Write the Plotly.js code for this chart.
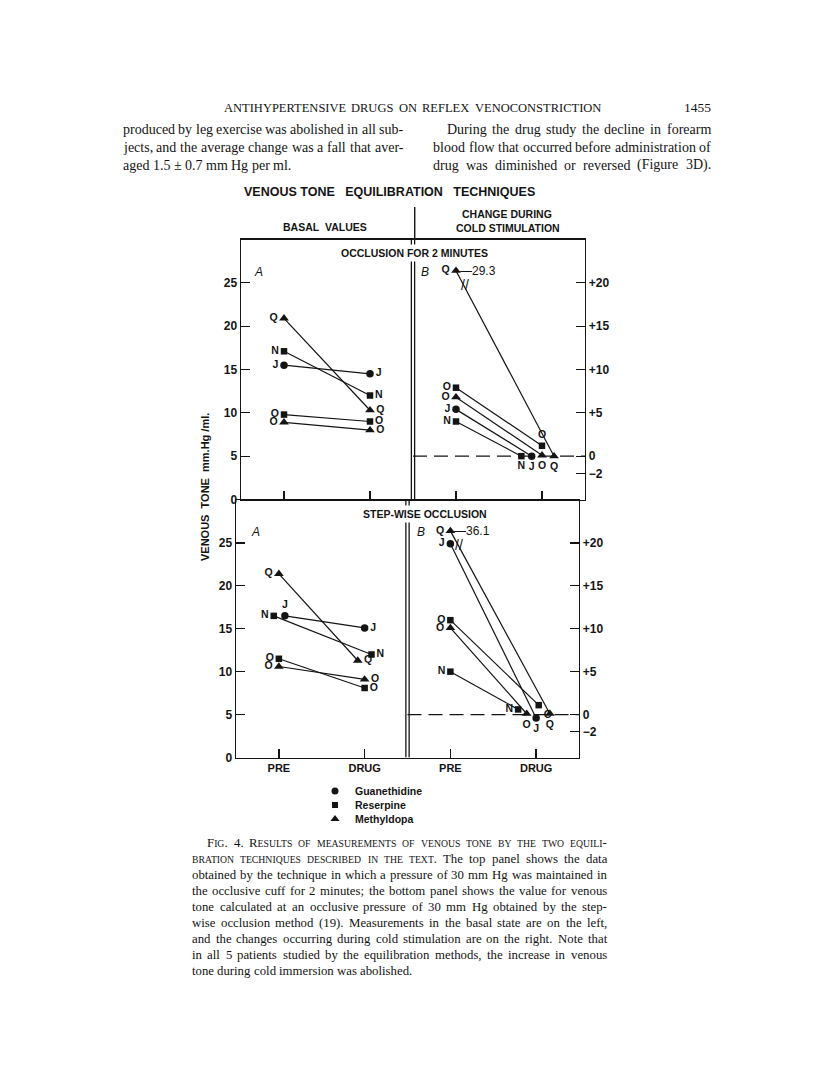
<!DOCTYPE html>
<html><head><meta charset="utf-8">
<script src="https://cdn.plot.ly/plotly-3.0.1.min.js"></script>
<style>html,body{margin:0;padding:0;background:#fff}#chart{width:816px;height:1076px}</style>
</head><body><div id="chart"></div>
<script>
// ================= DATA =================
const subjects = ['J', 'N', 'O', 'Q', 'O'];
const drugs = ['Guanethidine', 'Reserpine', 'Reserpine', 'Methyldopa', 'Methyldopa'];
const phases = ['PRE', 'DRUG'];
const legendDrugs = ['Guanethidine', 'Reserpine', 'Methyldopa'];
// Occlusion for 2 minutes (mm Hg/ml)
const occBasalPre  = [15.5, 17.1, 9.8, 20.9, 8.9];
const occBasalDrug = [14.5, 12.0, 9.0, 10.3, 8.0];
const occColdPre   = [5.4, 4.0, 7.9, 29.3, 6.8];   // change during cold stimulation
const occColdDrug  = [0.0, 0.0, 1.2, 0.0, 0.1];
// Step-wise occlusion (mm Hg/ml)
const stepBasalPre  = [16.5, 16.5, 11.5, 21.4, 10.6];
const stepBasalDrug = [15.1, 12.0, 8.1, 11.3, 9.1];
const stepColdPre   = [19.9, 5.0, 11.0, 36.1, 10.1];
const stepColdDrug  = [-0.4, 0.6, 1.1, 0.1, 0.1];
const leftTicks = [0, 5, 10, 15, 20, 25];
const rightTicks = [-2, 0, 5, 10, 15, 20];
const rightTickText = ['\u22122', '0', '+5', '+10', '+15', '+20'];

const runningHead = 'ANTIHYPERTENSIVE DRUGS ON REFLEX VENOCONSTRICTION';
const pageNumber = '1455';
const leftColumn = [
  'produced by leg exercise was abolished in all sub-',
  'jects, and the average change was a fall that aver-',
  'aged 1.5 \u00b1 0.7 mm Hg per ml.'
];
const rightColumn = [
  'During the drug study the decline in forearm',
  'blood flow that occurred before administration of',
  'drug was diminished or reversed (Figure 3D).'
];
const figureTitle = 'VENOUS TONE\u00a0\u00a0 EQUILIBRATION\u00a0\u00a0 TECHNIQUES';
const leftHeader = 'BASAL\u00a0 VALUES';
const rightHeader = ['CHANGE DURING', 'COLD STIMULATION'];
const topPanelTitle = 'OCCLUSION FOR 2 MINUTES';
const bottomPanelTitle = 'STEP-WISE OCCLUSION';
const yTitle = 'VENOUS\u00a0 TONE\u00a0 mm.Hg /ml.';
const captionLines = [
  'Fig. 4.  Results of measurements of venous tone by the two equili-',
  'bration techniques described in the text. The top panel shows the data',
  'obtained by the technique in which a pressure of 30 mm Hg was maintained in',
  'the occlusive cuff for 2 minutes; the bottom panel shows the value for venous',
  'tone calculated at an occlusive pressure of 30 mm Hg obtained by the step-',
  'wise occlusion method (19).  Measurements in the basal state are on the left,',
  'and the changes occurring during cold stimulation are on the right.  Note that',
  'in all 5 patients studied by the equilibration methods, the increase in venous',
  'tone during cold immersion was abolished.'
];

// ================= STYLE / LAYOUT CONFIG =================
const W = 816, H = 1076;
const px = x => x / W, py = y => 1 - y / H;
const SANS = 'Liberation Sans', SERIF = 'Liberation Serif';
const INK = '#141414';
const CAP = 21.4; // axis break level for off-scale values (right-hand scale)
const symbolFor = {Guanethidine: 'circle', Reserpine: 'square', Methyldopa: 'triangle-up'};
const sizeFor = {Guanethidine: 7.5, Reserpine: 6.5, Methyldopa: 8.5};
const L = 'middle left', R = 'middle right', B = 'bottom center';

const panels = [
  {pre: occBasalPre, drug: occBasalDrug, xa: 'x', ya: 'y', base: 1, cap: null,
   dx: [[0,0],[0,0],[0,0],[0,0],[0,0]],
   tp: [[L,R],[L,R],[L,R],[L,R],[L,R]]},
  {pre: occColdPre, drug: occColdDrug, xa: 'x', ya: 'y3', base: 3, cap: CAP,
   dx: [[0,-0.12],[0,-0.24],[0,0],[0,0.14],[0,0]],
   tp: [[L,B],[L,B],[L,'top center'],[L,B],[L,B]]},
  {pre: stepBasalPre, drug: stepBasalDrug, xa: 'x2', ya: 'y2', base: 1, cap: null,
   dx: [[0.07,0],[-0.06,0.08],[0,0],[0,-0.08],[0,0]],
   tp: [['top center',R],[L,R],[L,R],[L,R],[L,R]]},
  {pre: stepColdPre, drug: stepColdDrug, xa: 'x2', ya: 'y4', base: 3, cap: CAP,
   dx: [[0,0],[0,-0.21],[0,0.03],[0,0.16],[0,-0.11]],
   tp: [[L,B],[L,L],[L,'bottom right'],[L,B],[L,B]]}
];

const traces = [];
const annotations = [];
const shapes = [];
const labelFont = {family: SANS, size: 10.5, color: INK, weight: 'bold'};

panels.forEach(p => {
  subjects.forEach((s, i) => {
    const yPre = p.cap !== null ? Math.min(p.pre[i], p.cap) : p.pre[i];
    const yDrug = p.cap !== null ? Math.min(p.drug[i], p.cap) : p.drug[i];
    const x0 = p.base + p.dx[i][0], x1 = p.base + 1 + p.dx[i][1];
    traces.push({
      type: 'scatter', mode: 'lines+markers+text', xaxis: p.xa, yaxis: p.ya,
      x: [x0, x1], y: [yPre, yDrug], text: [s, s], textposition: p.tp[i],
      textfont: labelFont,
      marker: {symbol: symbolFor[drugs[i]], size: sizeFor[drugs[i]], color: INK, line: {width: 0}},
      line: {color: INK, width: 1.2}, cliponaxis: false, hoverinfo: 'skip', showlegend: false
    });
    if (p.cap !== null && p.pre[i] > p.cap) {
      annotations.push({xref: p.xa, yref: p.ya, x: x0, y: yPre, xanchor: 'left', yanchor: 'middle',
        xshift: 3, text: '\u2014' + p.pre[i].toFixed(1), showarrow: false, borderpad: 0,
        font: {family: SANS, size: 12, color: INK}});
      const f = 0.075;
      annotations.push({xref: p.xa, yref: p.ya, x: x0 + f * (x1 - x0) + 0.015, y: yPre + f * (yDrug - yPre),
        xanchor: 'center', yanchor: 'middle', text: '//', showarrow: false, borderpad: 0,
        font: {family: SANS, size: 14, color: INK}});
    }
  });
});

// legend (own small invisible axes)
legendDrugs.forEach((d, i) => {
  traces.push({type: 'scatter', mode: 'markers', xaxis: 'x3', yaxis: 'y5', x: [0.1], y: [i],
    marker: {symbol: symbolFor[d], size: sizeFor[d] - 0.5, color: INK}, cliponaxis: false,
    hoverinfo: 'skip', showlegend: false});
  annotations.push({xref: 'x3', yref: 'y5', x: 0.29, y: i, xanchor: 'left', yanchor: 'middle',
    text: d, showarrow: false, borderpad: 0, font: {family: SANS, size: 10.5, color: INK, weight: 'bold'}});
});

// dashed zero lines on the change scale
[['x','y3'],['x2','y4']].forEach(([xr, yr]) => shapes.push({type: 'line', xref: xr, yref: yr,
  x0: 2.5, x1: 4.5, y0: 0, y1: 0, line: {color: INK, width: 1.2, dash: '14px,7px'}, layer: 'below'}));
// double divider lines
[-0.019, 0.019].forEach(d => {
  shapes.push({type: 'line', xref: 'x', yref: 'y', x0: 2.5 + d, x1: 2.5 + d, y0: -0.6, y1: 30, line: {color: INK, width: 1.3}});
  shapes.push({type: 'line', xref: 'x2', yref: 'y2', x0: 2.5 + d, x1: 2.5 + d, y0: 0, y1: 30, line: {color: INK, width: 1.3}});
});
shapes.push({type: 'line', xref: 'x', yref: 'paper', x0: 2.52, x1: 2.52, y0: py(240), y1: py(207), line: {color: INK, width: 1.4}});

// chart text
function note(text, x, y, o) {
  o = o || {};
  const a = {xref: 'paper', yref: 'paper', x: px(x), y: py(y), text: text, showarrow: false,
    xanchor: o.xanchor || 'center', yanchor: 'middle', textangle: o.angle || 0, borderpad: o.pad || 0,
    font: {family: o.family || SANS, size: o.size || 11, color: INK, weight: o.weight || 'bold', style: o.style || 'normal'}};
  if (o.bg) a.bgcolor = o.bg;
  annotations.push(a);
}
note(figureTitle, 389, 192, {size: 12.5});
note(leftHeader, 325, 227, {size: 10.5});
note(rightHeader[0], 507, 214, {size: 10.5});
note(rightHeader[1], 508, 228, {size: 10.5});
note(topPanelTitle, 414, 253, {size: 10.5, bg: '#fff', pad: 2});
note(bottomPanelTitle, 425, 514, {size: 10.5, bg: '#fff', pad: 2});
note(yTitle, 205, 487, {size: 11, angle: -90});
note('A', 258, 272, {size: 12, style: 'italic', weight: 'normal'});
note('B', 425, 272, {size: 12, style: 'italic', weight: 'normal'});
note('A', 255, 532, {size: 12, style: 'italic', weight: 'normal'});
note('B', 421, 532, {size: 12, style: 'italic', weight: 'normal'});

// page text, justified word by word using canvas measurement
const cv = document.createElement('canvas').getContext('2d');
function tw(s, size) { cv.font = size + 'px "' + SERIF + '"'; return cv.measureText(s).width; }
function esc(s) { return s.replace(/&/g, '&amp;').replace(/</g, '&lt;').replace(/>/g, '&gt;'); }
function word(w, size, sc) {
  if (!sc) return {html: esc(w), w: tw(w, size)};
  let html = '', wd = 0, i = 0; const small = +(size * 0.76).toFixed(2);
  while (i < w.length) {
    const low = w[i] !== w[i].toUpperCase();
    let j = i;
    while (j < w.length && ((w[j] !== w[j].toUpperCase()) === low)) j++;
    const seg = w.slice(i, j);
    if (low) { const u = seg.toUpperCase(); html += '<span style="font-size:' + small + 'px">' + u + '</span>'; wd += tw(u, small); }
    else { html += esc(seg); wd += tw(seg, size); }
    i = j;
  }
  return {html: html, w: wd};
}
function block(lines, cfg) {
  lines.forEach((line, li) => {
    const words = line.split(/\s+/).filter(Boolean);
    const sc = cfg.sc ? cfg.sc[li] || 0 : 0;
    const parts = words.map((w, k) => word(w, cfg.size, k < sc));
    const x0 = cfg.x0 + (cfg.indent ? cfg.indent[li] || 0 : 0);
    const sum = parts.reduce((a, b) => a + b.w, 0);
    const sp = tw(' ', cfg.size);
    const just = cfg.justify[li] && parts.length > 1;
    const gap = just ? Math.max(sp * 0.6, (cfg.x1 - x0 - sum) / (parts.length - 1)) : sp;
    let x = x0; const y = cfg.y0 + li * cfg.dy;
    parts.forEach(p => {
      annotations.push({xref: 'paper', yref: 'paper', x: px(x), y: py(y), xanchor: 'left', yanchor: 'middle',
        text: p.html, showarrow: false, borderpad: 0, borderwidth: 0,
        font: {family: SERIF, size: cfg.size, color: INK}});
      x += p.w + gap;
    });
  });
}
block([runningHead], {x0: 224, x1: 601, y0: 108, dy: 0, size: 12.5, justify: [true]});
annotations.push({xref: 'paper', yref: 'paper', x: px(712), y: py(107), xanchor: 'right', yanchor: 'middle',
  text: pageNumber, showarrow: false, borderpad: 0, font: {family: SERIF, size: 13.5, color: INK}});
block(leftColumn, {x0: 123, x1: 403, y0: 129, dy: 18, size: 14, justify: [true, true, false]});
block(rightColumn, {x0: 433, x1: 711, y0: 129, dy: 18, size: 14, justify: [true, true, true], indent: [14, 0, 0]});
block(captionLines, {x0: 192, x1: 607, y0: 843, dy: 16, size: 12.8,
  justify: [true, true, true, true, true, true, true, true, false], indent: [15], sc: [99, 6]});

// axes
const axisBase = {showgrid: false, zeroline: false, showline: true, linecolor: INK, linewidth: 1.4,
  ticks: 'inside', ticklen: 9, tickwidth: 1.3, tickcolor: INK, fixedrange: true,
  tickfont: {family: SANS, size: 12, color: INK, weight: 'bold'}};
const layout = {
  width: W, height: H, autosize: false, margin: {l: 0, r: 0, t: 0, b: 0},
  paper_bgcolor: '#fff', plot_bgcolor: 'rgba(0,0,0,0)', showlegend: false,
  xaxis: Object.assign({}, axisBase, {domain: [px(241), px(585)], range: [0.5, 4.5], anchor: 'y',
    tickvals: [1, 2, 3, 4], showticklabels: false, mirror: true}),
  yaxis: Object.assign({}, axisBase, {domain: [py(499.5), py(239.5)], range: [0, 30], anchor: 'x', tickvals: leftTicks}),
  yaxis3: Object.assign({}, axisBase, {overlaying: 'y', side: 'right', anchor: 'x', range: [-5, 25],
    tickvals: rightTicks, ticktext: rightTickText}),
  xaxis2: Object.assign({}, axisBase, {domain: [px(236), px(579)], range: [0.5, 4.5], anchor: 'y2',
    tickvals: [1, 2, 3, 4], ticktext: phases.concat(phases), mirror: true,
    tickfont: {family: SANS, size: 11, color: INK, weight: 'bold'}}),
  yaxis2: Object.assign({}, axisBase, {domain: [py(757.5), py(500)], range: [0, 30], anchor: 'x2', tickvals: leftTicks}),
  yaxis4: Object.assign({}, axisBase, {overlaying: 'y2', side: 'right', anchor: 'x2', range: [-5, 25],
    tickvals: rightTicks, ticktext: rightTickText}),
  xaxis3: {domain: [px(325), px(425)], range: [0, 1], visible: false, anchor: 'y5', fixedrange: true},
  yaxis5: {domain: [py(826), py(784)], range: [2.5, -0.5], visible: false, anchor: 'x3', fixedrange: true},
  annotations: annotations, shapes: shapes
};
Plotly.newPlot('chart', traces, layout, {staticPlot: true, displayModeBar: false});
</script></body></html>
